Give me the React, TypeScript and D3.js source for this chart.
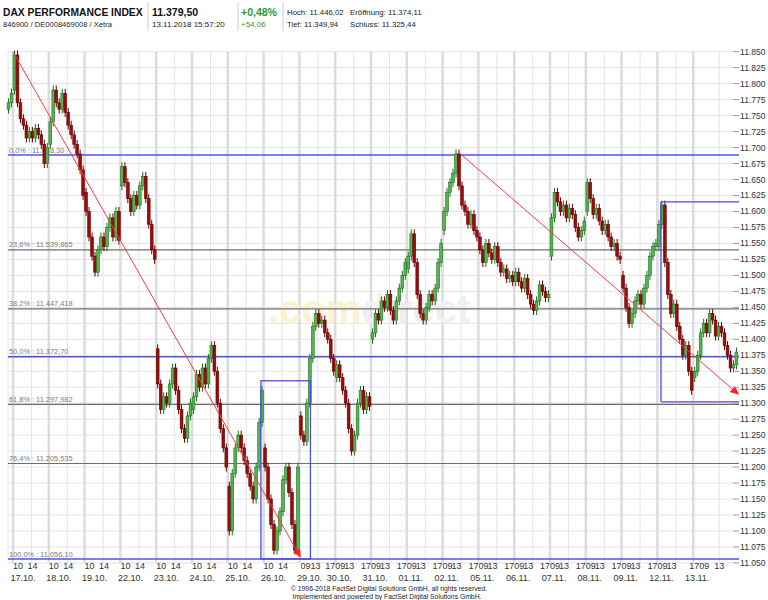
import React from "react";
import * as d3 from "d3";

// ---------- data ----------
const tradingDays = ["17.10.","18.10.","19.10.","22.10.","23.10.","24.10.","25.10.","26.10.","29.10.","30.10.","31.10.","01.11.","02.11.","05.11.","06.11.","07.11.","08.11.","09.11.","12.11.","13.11."];
const hourLabels = [
  ["10","14"],["10","14"],["10","14"],["10","14"],["10","14"],["10","14"],["10","14"],["10","14"],
  ["09","13"],
  ["17","09","13"],["17","09","13"],["17","09","13"],["17","09","13"],["17","09","13"],["17","09","13"],
  ["17","09","13"],["17","09","13"],["17","09","13"],["17","09","13"],["17","09","13"],
];
const yTicks = [11050,11075,11100,11125,11150,11175,11200,11225,11250,11275,11300,11325,11350,11375,11400,11425,11450,11475,11500,11525,11550,11575,11600,11625,11650,11675,11700,11725,11750,11775,11800,11825,11850];

const tailOpen = 11760;
const tail16_10 = [11770, 11785];
const dayOpens = [11790, 11705, 11630, 11640, 11385, 11290, 11170, 11230, 11280, 11340, 11400, 11510, 11570, 11560, 11490, 11530, 11600, 11500, 11545, 11340];
const c17_10 = [11845, 11770, 11745, 11735, 11715, 11725, 11715, 11730, 11720, 11705, 11675, 11700];
const c18_10 = [11740, 11790, 11770, 11760, 11785, 11755, 11735, 11720, 11705, 11690, 11665, 11625];
const c19_10 = [11600, 11560, 11530, 11505, 11540, 11560, 11545, 11575, 11590, 11560, 11600, 11555];
const c22_10 = [11670, 11645, 11620, 11600, 11625, 11610, 11640, 11655, 11620, 11580, 11540, 11525];
const c23_10 = [11330, 11290, 11310, 11300, 11330, 11355, 11320, 11290, 11260, 11245, 11280, 11300];
const c24_10 = [11310, 11345, 11325, 11355, 11330, 11370, 11390, 11350, 11300, 11260, 11230, 11200];
const c25_10 = [11100, 11190, 11230, 11250, 11230, 11210, 11190, 11170, 11150, 11200, 11270, 11320];
const c26_10 = [11200, 11150, 11110, 11070, 11100, 11130, 11180, 11200, 11160, 11110, 11070, 11200];
const c29_10 = [11250, 11240, 11300, 11370, 11420, 11440, 11425, 11430, 11410, 11400, 11370, 11350];
const c30_10 = [11360, 11340, 11320, 11300, 11260, 11225, 11250, 11300, 11320, 11290, 11310, 11295];
const c31_10 = [11410, 11440, 11430, 11460, 11450, 11470, 11445, 11430, 11460, 11480, 11500, 11520];
const c01_11 = [11530, 11565, 11520, 11470, 11440, 11430, 11450, 11470, 11460, 11480, 11520, 11550];
const c02_11 = [11600, 11630, 11645, 11660, 11690, 11640, 11610, 11600, 11580, 11595, 11570, 11560];
const c05_11 = [11540, 11520, 11550, 11535, 11525, 11545, 11520, 11505, 11510, 11495, 11500, 11490];
const c06_11 = [11505, 11490, 11480, 11495, 11470, 11455, 11445, 11460, 11485, 11475, 11465, 11470];
const c07_11 = [11590, 11630, 11615, 11600, 11610, 11590, 11605, 11595, 11575, 11560, 11570, 11585];
const c08_11 = [11645, 11620, 11595, 11605, 11585, 11570, 11580, 11560, 11545, 11550, 11530, 11525];
const c09_11 = [11480, 11450, 11425, 11440, 11460, 11470, 11455, 11480, 11500, 11530, 11545, 11550];
const c12_11 = [11580, 11610, 11520, 11470, 11440, 11455, 11420, 11400, 11375, 11390, 11350, 11320];
const c13_11 = [11350, 11375, 11410, 11425, 11410, 11440, 11430, 11405, 11420, 11410, 11390, 11375, 11355, 11360, 11380];

const fibPercent = ["0,0%", "23,6%", "38,2%", "50,0%", "61,8%", "76,4%", "100,0%"];
const fibValue = [11688.30, 11539.865, 11447.418, 11372.70, 11297.982, 11205.535, 11056.10];
const fibText = ["11.688,30", "11.539,865", "11.447,418", "11.372,70", "11.297,982", "11.205,535", "11.056,10"];

// trend lines: [slot, value]
const trendDown1 = [[0, 11850], [96.5, 11058]];
const trendDown2 = [[150.5, 11688], [243.4, 11313]];
// range boxes: slot from/to, value top/bottom
const box1 = { s0: 83.1, s1: 99.7, top: 11335, bottom: 11056.1 };
const box2 = { s0: 217.2, s1: 243.4, top: 11615, bottom: 11302 };

const FONT = "'Liberation Sans', Arial, Helvetica, sans-serif";

export default function App() {
  const x = d3.scaleLinear().domain([0, 240]).range([13, 729]);
  const y = d3.scaleLinear().domain([11050, 11850]).range([562.9, 51.7]);
  const left = 8, right = 739;
  const top = y(11850), bottom = y(11050);

  const dayCloses = [c17_10, c18_10, c19_10, c22_10, c23_10, c24_10, c25_10, c26_10, c29_10, c30_10, c31_10, c01_11, c02_11, c05_11, c06_11, c07_11, c08_11, c09_11, c12_11, c13_11];
  const candles: { s: number; o: number; c: number }[] = [];
  let prev = tailOpen;
  tail16_10.forEach((c, k) => { candles.push({ s: -2 + k, o: prev, c }); prev = c; });
  dayCloses.forEach((arr, i) => {
    let p = dayOpens[i];
    arr.forEach((c, k) => { candles.push({ s: 12 * i + k, o: p, c }); p = c; });
  });
  const slotW = x(1) - x(0);
  const bodyW = slotW - 0.2;
  const wick = 7;

  const arrow = (pts: number[][], key: string) => {
    const x1 = x(pts[0][0]), y1 = y(pts[0][1]);
    const x2 = x(pts[1][0]), y2 = y(pts[1][1]);
    const ang = Math.atan2(y2 - y1, x2 - x1);
    const L = 9, Wd = 4;
    const bx = x2 - L * Math.cos(ang), by = y2 - L * Math.sin(ang);
    const p1 = [bx + Wd * Math.sin(ang), by - Wd * Math.cos(ang)];
    const p2 = [bx - Wd * Math.sin(ang), by + Wd * Math.cos(ang)];
    return (
      <g key={key}>
        <line x1={x1} y1={y1} x2={bx} y2={by} stroke="#ff3b3b" strokeWidth={1} />
        <polygon points={`${x2},${y2} ${p1[0]},${p1[1]} ${p2[0]},${p2[1]}`} fill="#ff2020" />
      </g>
    );
  };

  const hourPos = (i: number, n: number, j: number) => {
    const t = x(12 * i);
    if (n === 2) {
      if (i === 8) return t + [6, 16][j];
      return t + [5, 19.5][j];
    }
    if (i === 19) return t + [1, 11, 26][j];
    return t + [-5, 5, 14][j];
  };

  return (
    <svg width={768} height={600} style={{ position: "absolute", left: 0, top: 0, background: "#fff" }} fontFamily={FONT}>
      {/* header */}
      <g>
        <text x={3} y={15.5} fontSize={10.3} fontWeight="bold" fill="#111">DAX PERFORMANCE INDEX</text>
        <text x={3} y={27} fontSize={7.6} fill="#222">846900 / DE0008469008 / Xetra</text>
        <line x1={148} x2={148} y1={2} y2={31} stroke="#cfcfcf" />
        <text x={152} y={15.5} fontSize={10.5} fontWeight="bold" fill="#111">11.379,50</text>
        <text x={152} y={27} fontSize={8} fill="#222">13.11.2018 15:57:20</text>
        <line x1={238} x2={238} y1={2} y2={31} stroke="#cfcfcf" />
        <text x={241} y={15.5} fontSize={10.5} fontWeight="bold" fill="#2e9a2e">+0,48%</text>
        <text x={241} y={27} fontSize={8} fill="#2e9a2e">+54,06</text>
        <line x1={283} x2={283} y1={2} y2={31} stroke="#cfcfcf" />
        <text x={287} y={15} fontSize={7.8} fill="#222">Hoch: 11.446,02</text>
        <text x={350} y={15} fontSize={7.8} fill="#222">Eröffnung: 11.374,11</text>
        <text x={287} y={27} fontSize={7.8} fill="#222">Tief: 11.349,94</text>
        <text x={350} y={27} fontSize={7.8} fill="#222">Schluss: 11.325,44</text>
      </g>

      {/* grid */}
      <g>
        {yTicks.map((v) => (
          <line key={"h" + v} x1={left} x2={733} y1={y(v)} y2={y(v)} stroke="#e4e4e4" strokeWidth={1} />
        ))}
        <line x1={left} x2={left} y1={top} y2={bottom} stroke="#e4e4e4" />
        {tradingDays.map((d, i) => (
          <g key={"v" + d}>
            <line x1={x(12 * i)} x2={x(12 * i)} y1={top} y2={bottom} stroke="#dcdcdc" strokeWidth={2.5} />
            <line x1={x(12 * i + (i < 19 ? 6.2 : 8.7))} x2={x(12 * i + (i < 19 ? 6.2 : 8.7))} y1={top} y2={bottom} stroke="#e4e4e4" strokeWidth={1} />
          </g>
        ))}
      </g>

      {/* watermark */}
      <text x={268} y={323} fontSize={40} fontWeight="bold" fontFamily={FONT}>
        <tspan fill="#fbf2cf">.com</tspan>
        <tspan fill="#efefef">direct</tspan>
      </text>

      {/* fib lines */}
      <g>
        {fibValue.map((v, i) => {
          const blue = i === 0 || i === 3 || i === 6;
          return (
            <g key={"f" + i}>
              <line x1={left} x2={right} y1={y(v)} y2={y(v)} stroke={blue ? "#5252e6" : "#6e6e6e"} strokeWidth={blue ? 1.5 : 1.2} />
              <text x={9} y={y(v) - 2.5} fontSize={7.4} fill="#7a7a7a">{`${fibPercent[i]} : ${fibText[i]}`}</text>
            </g>
          );
        })}
      </g>

      {/* candles */}
      <g>
        {candles.map((d, i) => {
          const up = d.c >= d.o;
          const cx = x(d.s + 0.5);
          const hi = Math.max(d.o, d.c) + wick, lo = Math.min(d.o, d.c) - wick;
          const yt = y(Math.max(d.o, d.c)), yb = y(Math.min(d.o, d.c));
          return (
            <g key={"c" + i}>
              <line x1={cx} x2={cx} y1={y(hi)} y2={y(lo)} stroke={up ? "#1f6e1f" : "#5e0000"} strokeWidth={1} />
              <rect x={cx - bodyW / 2} y={yt} width={bodyW} height={Math.max(1.5, yb - yt)}
                fill={up ? "#52b552" : "#980c0c"} stroke={up ? "#1f6e1f" : "#6a0000"} strokeWidth={0.6} />
            </g>
          );
        })}
      </g>

      {/* boxes */}
      <g fill="none" stroke="#4a4ae6" strokeWidth={1.3}>
        <rect x={x(box1.s0)} y={y(box1.top)} width={x(box1.s1) - x(box1.s0)} height={y(box1.bottom) - y(box1.top)} />
        <line x1={x(box2.s0)} x2={x(box2.s0)} y1={y(box2.top)} y2={y(box2.bottom)} />
        <line x1={x(box2.s0)} x2={x(box2.s1)} y1={y(box2.top)} y2={y(box2.top)} />
        <line x1={x(box2.s0)} x2={x(box2.s1)} y1={y(box2.bottom)} y2={y(box2.bottom)} />
      </g>

      {/* trend lines */}
      {arrow(trendDown1, "t1")}
      {arrow(trendDown2, "t2")}

      {/* y axis */}
      <g>
        {yTicks.map((v) => (
          <g key={"yt" + v}>
            <line x1={733} x2={739} y1={y(v)} y2={y(v)} stroke="#999" />
            <text x={740} y={y(v)} dy="0.35em" fontSize={8.6} fill="#333">{d3.format(",.0f")(v).replace(",", ".")}</text>
          </g>
        ))}
      </g>

      {/* x axis */}
      <g fontSize={9} fill="#333">
        {tradingDays.map((d, i) => (
          <g key={"xl" + d}>
            {hourLabels[i].map((h, j) => (
              <text key={j} x={hourPos(i, hourLabels[i].length, j)} y={568.5} textAnchor="middle">{h}</text>
            ))}
            <text x={x(12 * i) + (i <= 8 ? 10 : 4)} y={581} textAnchor="middle">{d}</text>
          </g>
        ))}
      </g>

      {/* footer */}
      <text x={389} y={591} fontSize={6.8} textAnchor="middle" fill="#222">© 1996-2018 FactSet Digital Solutions GmbH, all rights reserved.</text>
      <text x={387} y={598.5} fontSize={6.8} textAnchor="middle" fill="#222">Implemented and powered by FactSet Digital Solutions GmbH.</text>
    </svg>
  );
}
